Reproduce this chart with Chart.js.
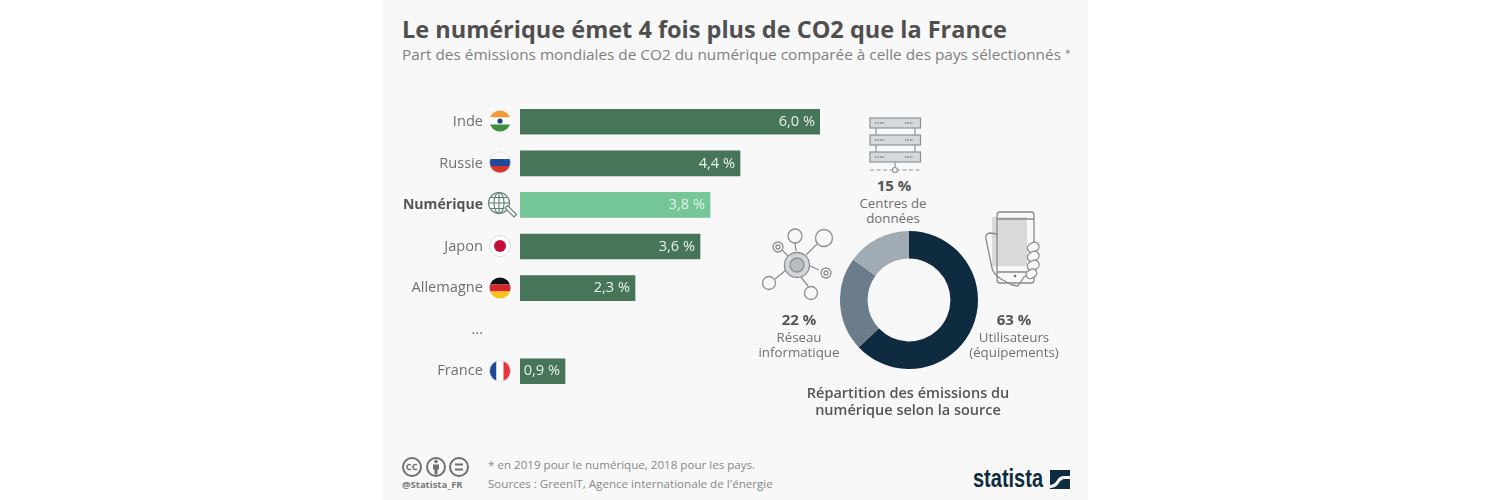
<!DOCTYPE html>
<html lang="fr">
<head>
<meta charset="utf-8">
<title>Le numérique émet 4 fois plus de CO2 que la France</title>
<script src="https://cdn.jsdelivr.net/npm/chart.js@4/dist/chart.umd.min.js"></script>
<style>
  html, body { margin: 0; padding: 0; background: #fff; }
  body { width: 1500px; height: 500px; position: relative; overflow: hidden; font-family: "Open Sans", sans-serif; }
  #panel { position: absolute; left: 383px; top: 0; width: 705px; height: 500px; background: #f8f8f8; }
  canvas, svg { position: absolute; }
  .t { position: absolute; white-space: nowrap; line-height: 1; }
  .c { transform: translate(-50%, -50%); text-align: center; }
  .l { transform: translateY(-50%); }
  .pct { font-size: 15px; font-weight: 700; color: #555; }
  .lbl { font-size: 13.3px; color: #707070; line-height: 15px; }
  .bold { font-size: 14.5px; font-weight: 600; color: #555; line-height: 17px; }
  .foot { font-size: 11.6px; color: #888; }
</style>
</head>
<body>
<div id="panel"></div>

<div class="t l" style="left:402px;top:29.5px;font-size:23.5px;font-weight:700;color:#4f4f4f">Le numérique émet 4 fois plus de CO2 que la France</div>
<div class="t l" style="left:402px;top:55px;font-size:15.35px;color:#808080">Part des émissions mondiales de CO2 du numérique comparée à celle des pays sélectionnés <span style="font-size:10px;position:relative;top:-3px">*</span></div>

<svg width="1500" height="500" viewBox="0 0 1500 500" style="left:0;top:0">
  <defs>
    <clipPath id="f1"><circle cx="500" cy="121" r="10.5"/></clipPath>
    <clipPath id="f2"><circle cx="500" cy="162.5" r="10.5"/></clipPath>
    <clipPath id="f5"><circle cx="500" cy="288" r="10.5"/></clipPath>
    <clipPath id="f7"><circle cx="500" cy="371" r="10.5"/></clipPath>
  </defs>
  <!-- flags -->
  <g clip-path="url(#f1)">
    <rect x="489" y="110" width="22" height="7.5" fill="#f39a34"/><rect x="489" y="117.5" width="22" height="7" fill="#fff"/><rect x="489" y="124.5" width="22" height="8" fill="#3f8f3c"/>
    <circle cx="500" cy="121" r="2.6" fill="#1d3f8a"/>
  </g>
  <g clip-path="url(#f2)">
    <rect x="489" y="152" width="22" height="7" fill="#fff"/><rect x="489" y="159" width="22" height="7" fill="#1f4a9c"/><rect x="489" y="166" width="22" height="8" fill="#d8352a"/>
  </g>
  <circle cx="500" cy="162.5" r="10.5" fill="none" stroke="#ddd" stroke-width=".7"/>
  <g fill="none" stroke="#5f7f70" stroke-width="1.1">
    <circle cx="499" cy="203" r="10.5"/><ellipse cx="499" cy="203" rx="5" ry="10.5"/>
    <path d="M499 192.5v21M488.5 203h21M490 197.5h18M490 208.5h14"/>
    <path d="M505 208l9 9 2.5-2.5-9-9z" fill="#f8f8f8"/>
  </g>
  <circle cx="500" cy="246" r="10.5" fill="#fff" stroke="#ddd"/><circle cx="500" cy="246" r="6" fill="#c2103a"/>
  <g clip-path="url(#f5)">
    <rect x="489" y="277" width="22" height="7.5" fill="#111"/><rect x="489" y="284.5" width="22" height="7" fill="#d8262c"/><rect x="489" y="291.5" width="22" height="8" fill="#f6c21c"/>
  </g>
  <g clip-path="url(#f7)">
    <rect x="489" y="360" width="7.5" height="22" fill="#1f4a9c"/><rect x="496.5" y="360" width="7" height="22" fill="#fff"/><rect x="503.5" y="360" width="8" height="22" fill="#e8343c"/>
  </g>
  <circle cx="500" cy="371" r="10.5" fill="none" stroke="#ddd" stroke-width=".7"/>

  <!-- serveurs -->
  <g fill="#d5d9dc" stroke="#8a949b" stroke-width="1.2">
    <rect x="870" y="118" width="50.5" height="10"/><rect x="870" y="135" width="50.5" height="10"/><rect x="870" y="152" width="50.5" height="10"/>
  </g>
  <g stroke="#8a949b" stroke-width="1.2" fill="none">
    <path d="M876 128v7M915 128v7M876 145v7M915 145v7M895 162v6"/>
    <path d="M870 170h51" stroke-dasharray="4 2.5"/>
    <circle cx="895" cy="170" r="2.5" fill="#f8f8f8"/>
  </g>
  <path d="M875 123h10M875 140h10M875 157h10M905 123h8M905 140h8M905 157h8" stroke="#7d878e" stroke-width="1.5" stroke-dasharray="1.5 1"/>

  <!-- réseau -->
  <g fill="none" stroke="#8b8f92" stroke-width="1.3">
    <path d="M796 251l-1-8M806 255l11-11M810 266l9 4M801 277l7 9M786 270l-11 9M788 256l-6-6"/>
    <circle cx="795" cy="236" r="7"/><circle cx="824" cy="238" r="8.5"/><circle cx="778" cy="247" r="5"/>
    <circle cx="826" cy="273" r="5"/><circle cx="769" cy="283" r="6.5"/><circle cx="811" cy="293" r="6.5"/>
    <circle cx="778" cy="247" r="2"/><circle cx="826" cy="273" r="2"/>
    <circle cx="797" cy="265" r="12.5" fill="#d3d7db"/><circle cx="797" cy="265" r="7" fill="#b6bcc1"/>
  </g>

  <!-- téléphone -->
  <rect x="992" y="217" width="35" height="49" fill="#d9d9d9"/>
  <g fill="none" stroke="#858b90" stroke-width="1.3" stroke-linejoin="round">
    <rect x="997" y="212" width="37" height="71" rx="3"/>
    <path d="M997 219h37M997 272h37"/>
    <path d="M997 234l-7-1c-3 0-5 3-4 6l6 29c1 5 4 8 9 11l11 6 6 1 6-9 7-4"/>
    <rect x="1027" y="243" width="12" height="9" rx="4.5" transform="rotate(-30 1033 247)" fill="#f8f8f8"/>
    <rect x="1027" y="252" width="12" height="9" rx="4.5" transform="rotate(-30 1033 256)" fill="#f8f8f8"/>
    <rect x="1027" y="261" width="12" height="9" rx="4.5" transform="rotate(-30 1033 265)" fill="#f8f8f8"/>
    <rect x="1026" y="270" width="11" height="8" rx="4" transform="rotate(-30 1031 274)" fill="#f8f8f8"/>
  </g>
  <circle cx="1015" cy="276" r="1.3" fill="#6d7378"/>

  <!-- licence -->
  <g fill="none" stroke="#6f6f6f" stroke-width="2">
    <circle cx="412" cy="467" r="9"/><circle cx="436" cy="467" r="9"/><circle cx="459" cy="467" r="9"/>
    <path d="M455 464.5h8M455 469.5h8"/>
    <path d="M411 465a2.5 2.5 0 1 0 0 4M417 465a2.5 2.5 0 1 0 0 4" stroke-width="1.4"/>
  </g>
  <circle cx="436" cy="461.5" r="1.8" fill="#6f6f6f"/><path d="M433 464.5h6v5h-1.5v5h-3v-5h-1.5z" fill="#6f6f6f"/>

  <!-- logo -->
  <rect x="1050" y="470" width="20" height="19" fill="#0f2b40"/>
  <path d="M1050 485c7 0 7-9 13-9h7v3h-6c-5 0-5 9-13 9h-1z" fill="#f8f8f8"/>
</svg>

<canvas id="barChart" width="437" height="291" style="left:383px;top:100.5px;width:437px;height:291px"></canvas>
<canvas id="donutChart" width="138" height="138" style="left:840px;top:231px;width:138px;height:138px"></canvas>

<div class="t c pct" style="left:894px;top:185px">15 %</div>
<div class="t c lbl" style="left:893px;top:211px">Centres de<br>données</div>
<div class="t c pct" style="left:799px;top:319px">22 %</div>
<div class="t c lbl" style="left:799px;top:345px">Réseau<br>informatique</div>
<div class="t c pct" style="left:1014px;top:319px">63 %</div>
<div class="t c lbl" style="left:1014px;top:345px">Utilisateurs<br>(équipements)</div>
<div class="t c bold" style="left:908px;top:400.5px">Répartition des émissions du<br>numérique selon la source</div>

<div class="t l" style="left:402px;top:485px;font-size:9.5px;font-weight:700;color:#7a7a7a">@Statista_FR</div>
<div class="t l foot" style="left:488px;top:465px">* en 2019 pour le numérique, 2018 pour les pays.</div>
<div class="t l foot" style="left:488px;top:484px">Sources : GreenIT, Agence internationale de l'énergie</div>
<div class="t" style="left:973px;top:466px;font-family:'Liberation Sans',sans-serif;font-size:25px;font-weight:700;color:#0f2b40;transform:scaleX(.8);transform-origin:left top">statista</div>

<script>
/* ===================== DATA ===================== */
const categories = ["Inde", "Russie", "Numérique", "Japon", "Allemagne", "...", "France"];
const shares = [6.0, 4.4, 3.8, 3.6, 2.3, null, 0.9];
const sources = ["Utilisateurs (équipements)", "Réseau informatique", "Centres de données"];
const sourceShares = [63, 22, 15];

/* ===================== COLORS ===================== */
const BAR = "#467559";
const BAR_HI = "#75c797";
const DONUT = ["#0f2b40", "#6b7d8b", "#a0abb4"];

/* ===================== VALUE LABELS ===================== */
const fmt = v => v.toFixed(1).replace(".", ",") + " %";

const barLabels = {
  id: "barLabels",
  afterDatasetsDraw(chart) {
    const ctx = chart.ctx;
    ctx.save();
    ctx.font = "14.6px 'Open Sans'";
    ctx.fillStyle = "#e9f2ec";
    ctx.textAlign = "right";
    ctx.textBaseline = "middle";
    chart.getDatasetMeta(0).data.forEach((bar, i) => {
      if (shares[i] === null) return;
      ctx.fillText(fmt(shares[i]), bar.x - 5, bar.y);
    });
    ctx.restore();
  }
};

/* ===================== BAR CHART ===================== */
new Chart(document.getElementById("barChart"), {
  type: "bar",
  plugins: [barLabels],
  data: {
    labels: categories,
    datasets: [{
      data: shares,
      backgroundColor: categories.map(c => c === "Numérique" ? BAR_HI : BAR),
      barThickness: 25
    }]
  },
  options: {
    indexAxis: "y",
    responsive: false,
    animation: false,
    layout: { padding: 0 },
    plugins: { legend: { display: false }, tooltip: { enabled: false } },
    scales: {
      x: { display: false, min: 0, max: 6 },
      y: {
        // tick padding also pads the axis ends, drop that so the bands fill the canvas
        afterFit: s => { s.width = 137; s.paddingTop = 0; s.paddingBottom = 0; },
        grid: { display: false },
        border: { display: false },
        ticks: {
          padding: 29,
          color: c => categories[c.index] === "Numérique" ? "#555" : "#707070",
          font: c => ({
            family: "'Open Sans'",
            size: categories[c.index] === "Numérique" ? 14.1 : 14.6,
            weight: categories[c.index] === "Numérique" ? "700" : "400"
          })
        }
      }
    }
  }
});

/* ===================== DONUT ===================== */
new Chart(document.getElementById("donutChart"), {
  type: "doughnut",
  data: {
    labels: sources,
    datasets: [{ data: sourceShares, backgroundColor: DONUT, borderWidth: 0 }]
  },
  options: {
    responsive: false,
    animation: false,
    cutout: "60%",
    layout: { padding: 0 },
    plugins: { legend: { display: false }, tooltip: { enabled: false } }
  }
});
</script>
</body>
</html>
